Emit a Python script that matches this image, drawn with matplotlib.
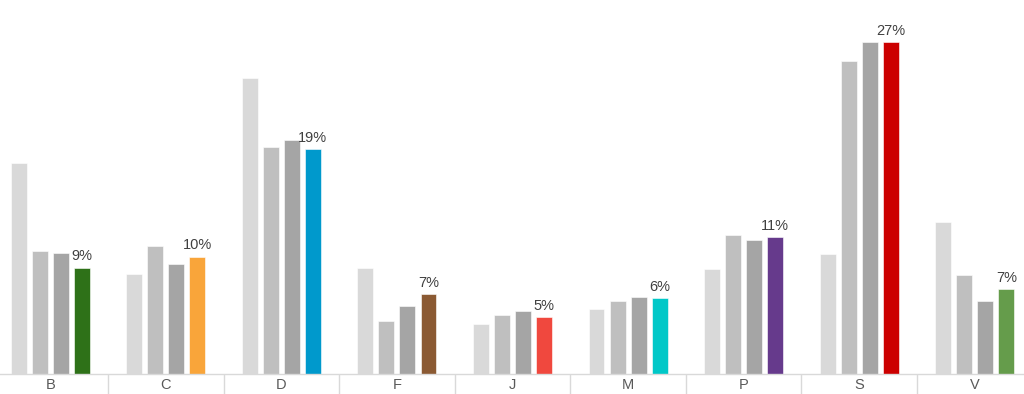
import matplotlib.pyplot as plt
import numpy as np

plt.rcParams['font.family'] = ['Liberation Sans', 'DejaVu Sans']

categories = ['B', 'C', 'D', 'F', 'J', 'M', 'P', 'S', 'V']

# three grey comparison series + the highlighted series (values in %)
grey1 = [17.4, 8.3, 24.5, 8.8, 4.1, 5.4, 8.7, 9.9, 12.6]
grey2 = [10.2, 10.6, 18.8, 4.4, 4.9, 6.0, 11.5, 25.9, 8.2]
grey3 = [10.0, 9.1, 19.3, 5.6, 5.2, 6.4, 11.1, 27.4, 6.0]
highlight = [8.8, 9.7, 18.6, 6.6, 4.7, 6.3, 11.3, 27.4, 7.0]

grey_colors = ['#d9d9d9', '#bfbfbf', '#a5a5a5']
highlight_colors = ['#2e7118', '#f9a53a', '#0099cc', '#8b5a33', '#f0483e',
                    '#00c8c8', '#663a8c', '#cc0000', '#659c4b']

fig = plt.figure(figsize=(10.24, 3.94), dpi=100)
ax = fig.add_axes([-7.6 / 1024, 20 / 394, 1040.2 / 1024, 374 / 394])

x = np.arange(len(categories))
step = 0.182
width = 0.138

for i, (vals, col) in enumerate(zip([grey1, grey2, grey3], grey_colors)):
    ax.bar(x + (i - 1.5) * step, vals, width, color=col, edgecolor='white', linewidth=0.4)

bars = ax.bar(x + 1.5 * step, highlight, width, color=highlight_colors,
              edgecolor='white', linewidth=0.4)

for b, v in zip(bars, highlight):
    ax.text(b.get_x() + b.get_width() / 2, v + 0.35, f"{v:.0f}%",
            ha='center', va='bottom', fontsize=10.5, color='#404040')

ax.set_xlim(-0.5, len(categories) - 0.5)
ax.set_ylim(0, 374 / 12.1)

for s in ['top', 'left', 'right']:
    ax.spines[s].set_visible(False)
ax.spines['bottom'].set_color('#d9d9d9')
ax.spines['bottom'].set_linewidth(1)
ax.set_yticks([])

ax.set_xticks(x)
ax.set_xticklabels(categories, fontsize=10.5, color='#595959')
ax.tick_params(axis='x', which='major', length=0, pad=3)
ax.set_xticks(np.arange(0.5, len(categories) - 1, 1), minor=True)
ax.tick_params(axis='x', which='minor', length=15, width=1, color='#d9d9d9', direction='out')

fig.savefig('out.png', dpi=100)
